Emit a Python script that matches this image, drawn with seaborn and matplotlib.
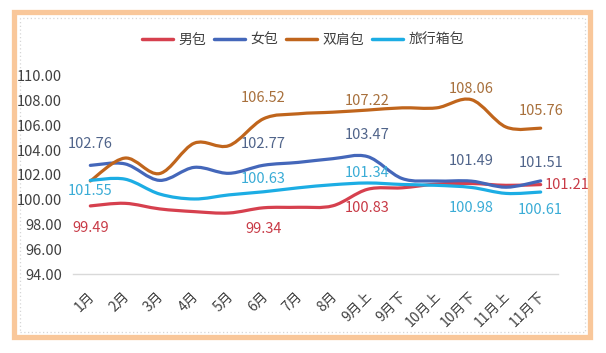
"""Smoothed price-index lines for four bag categories."""

from __future__ import annotations

import matplotlib

matplotlib.use("Agg")
import matplotlib.pyplot as plt
import matplotlib.transforms as mtransforms
import numpy as np
import pandas as pd
import seaborn as sns
from matplotlib.lines import Line2D
from matplotlib.patches import PathPatch, Rectangle
from matplotlib.path import Path


PERIODS = ["1月", "2月", "3月", "4月", "5月", "6月", "7月", "8月",
           "9月上", "9月下", "10月上", "10月下", "11月上", "11月下"]
MEN_BAG = [99.49, 99.70, 99.25, 99.03, 98.92, 99.34, 99.38, 99.50,
           100.83, 100.95, 101.25, 101.30, 101.15, 101.21]
WOMEN_BAG = [102.76, 102.88, 101.55, 102.60, 102.12, 102.77, 103.00, 103.30,
             103.47, 101.70, 101.50, 101.49, 101.00, 101.51]
BACKPACK = [101.50, 103.35, 102.10, 104.55, 104.35, 106.52, 106.92, 107.05,
            107.22, 107.40, 107.40, 108.06, 105.85, 105.76]
LUGGAGE = [101.55, 101.65, 100.45, 100.05, 100.38, 100.63, 100.95, 101.20,
           101.34, 101.22, 101.15, 100.98, 100.50, 100.61]
SERIES_NAMES = ["男包", "女包", "双肩包", "旅行箱包"]
Y_TICKS = [94, 96, 98, 100, 102, 104, 106, 108, 110]

LINE_COLORS = {"男包": "#D6404E", "女包": "#4467BA", "双肩包": "#C0651C", "旅行箱包": "#1CADE4"}
LABEL_COLORS = {"男包": "#C83A46", "女包": "#50648A", "双肩包": "#A8703C", "旅行箱包": "#3AACD6"}
# which points carry a value label, and where the label sits (pixel offsets)
LABEL_SPOTS = {
    "男包": [(0, 0, -22), (5, 0, -21), (8, 0, -19), (13, 4, 0)],
    "女包": [(0, 0, 21), (5, 0, 21), (8, 0, 22), (11, 0, 20), (13, 0, 18)],
    "双肩包": [(5, 0, 21), (8, 0, 9), (11, 0, 11), (13, 0, 17)],
    "旅行箱包": [(0, 0, -11), (5, 0, 13), (8, 0, 10), (11, 0, -21), (13, 0, -18)],
}
TEXT_COLOR = "#404040"
FONTS = ["Noto Sans CJK SC", "DejaVu Sans"]


def smooth_path(x: np.ndarray, y: np.ndarray) -> Path:
    """Catmull-Rom style bezier through the points (like a smoothed office chart)."""
    pts = np.column_stack([x, y])
    padded = np.vstack([pts[0], pts, pts[-1]])
    verts = [pts[0]]
    codes = [Path.MOVETO]
    for i in range(len(pts) - 1):
        p0, p1, p2, p3 = padded[i], padded[i + 1], padded[i + 2], padded[i + 3]
        verts += [p1 + (p2 - p0) / 6, p2 - (p3 - p1) / 6, p2]
        codes += [Path.CURVE4] * 3
    return Path(verts, codes)


def build_frame() -> pd.DataFrame:
    values = {"男包": MEN_BAG, "女包": WOMEN_BAG, "双肩包": BACKPACK, "旅行箱包": LUGGAGE}
    rows = []
    for name in SERIES_NAMES:
        for idx, val in enumerate(values[name]):
            rows.append({"idx": idx, "period": PERIODS[idx], "series": name, "value": val})
    return pd.DataFrame(rows)


def main() -> None:
    sns.set_theme(style="white")
    plt.rcParams["font.family"] = FONTS
    df = build_frame()

    fig = plt.figure(figsize=(6.06, 3.53), dpi=100)
    fig.patch.set_facecolor("white")
    W, H = 606, 353
    ax = fig.add_axes([73 / W, (H - 274) / H, (558 - 73) / W, (274 - 75.6) / H])

    sns.lineplot(data=df, x="idx", y="value", hue="series", hue_order=SERIES_NAMES,
                 palette=LINE_COLORS, legend=False, ax=ax, linewidth=2.3)
    for line in list(ax.lines):
        xy = line.get_xydata()
        patch = PathPatch(smooth_path(xy[:, 0], xy[:, 1]), facecolor="none",
                          edgecolor=line.get_color(), lw=2.3, capstyle="round",
                          joinstyle="round", zorder=3)
        ax.add_patch(patch)
        line.remove()

    for name in SERIES_NAMES:
        sub = df[df["series"] == name].set_index("idx")
        for idx, dx, dy in LABEL_SPOTS[name]:
            val = sub.loc[idx, "value"]
            ha = "left" if dx > 0 else "center"
            ax.annotate(f"{val:.2f}", (idx, val), xytext=(dx, dy),
                        textcoords="offset pixels", ha=ha, va="center",
                        fontsize=10.5, color=LABEL_COLORS[name], zorder=5)

    ax.set_xlim(-0.5, len(PERIODS) - 0.5)
    ax.set_ylim(Y_TICKS[0], Y_TICKS[-1])
    ax.set_yticks(Y_TICKS)
    ax.set_yticklabels([f"{v:.2f}" for v in Y_TICKS])
    ax.set_xticks(range(len(PERIODS)))
    ax.set_xticklabels(PERIODS, rotation=45, ha="right", va="top", rotation_mode="anchor")
    ax.tick_params(axis="y", length=0, pad=8, labelsize=10.5, labelcolor=TEXT_COLOR)
    ax.tick_params(axis="x", length=0, pad=11, labelsize=10, labelcolor=TEXT_COLOR)
    shift = mtransforms.ScaledTranslation(-3 / 100, 0, fig.dpi_scale_trans)
    for lab in ax.get_xticklabels():
        lab.set_transform(lab.get_transform() + shift)
    ax.set_xlabel("")
    ax.set_ylabel("")
    for side in ("top", "right", "left"):
        ax.spines[side].set_visible(False)
    ax.spines["bottom"].set_color("#D9D9D9")
    ax.spines["bottom"].set_linewidth(1)
    ax.set_facecolor("none")

    handles = [Line2D([0], [0], color=LINE_COLORS[n], lw=2.5) for n in SERIES_NAMES]
    fig.legend(handles, SERIES_NAMES, loc="center", bbox_to_anchor=(0.5, 1 - 40 / H),
               ncol=4, frameon=False, fontsize=10, handlelength=2.2, handletextpad=0.4,
               columnspacing=0.6, labelcolor=TEXT_COLOR)

    # dotted inner frame and thick peach outer frame
    fig.add_artist(Rectangle((20 / W, (H - 332) / H), (585 - 20) / W, (332 - 18) / H,
                             transform=fig.transFigure, fill=False, edgecolor="#D6D6D6",
                             lw=0.9, linestyle=(0, (1, 2)), zorder=0))
    fig.add_artist(Rectangle((13.5 / W, (H - 337) / H), (589.5 - 13.5) / W, (337 - 11.5) / H,
                             transform=fig.transFigure, fill=False, edgecolor="#F9C79A",
                             lw=3.8, zorder=1))

    fig.savefig("out.png", dpi=100, facecolor="white")
    plt.close(fig)


if __name__ == "__main__":
    main()
